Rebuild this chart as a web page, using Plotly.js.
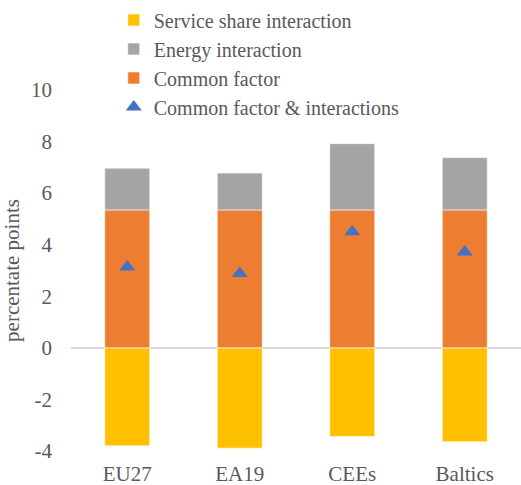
<!DOCTYPE html>
<html>
<head>
<meta charset="utf-8">
<script src="https://cdn.plot.ly/plotly-3.0.1.min.js"></script>
<style>html,body{margin:0;padding:0;background:#fff;}#chart{width:521px;height:485px;}</style>
</head>
<body>
<div id="chart"></div>
<script>
var categories = ["EU27", "EA19", "CEEs", "Baltics"];
var serviceShare = [-3.80, -3.89, -3.44, -3.64];
var energy = [1.62, 1.43, 2.57, 2.03];
var commonFactor = [5.35, 5.35, 5.35, 5.35];
var total = [3.14, 2.88, 4.50, 3.72];
var yTicks = [-4, -2, 0, 2, 4, 6, 8, 10];

var font = "Liberation Serif";
var barLine = {color: "rgba(255,255,255,0.6)", width: 1};

var data = [
  {type: "bar", name: "Service share interaction", x: categories, y: serviceShare,
   marker: {color: "#FFC000", line: barLine}, legendrank: 1, width: 0.4},
  {type: "bar", name: "Common factor", x: categories, y: commonFactor,
   marker: {color: "#ED7D31", line: barLine}, legendrank: 3, width: 0.4},
  {type: "bar", name: "Energy interaction", x: categories, y: energy,
   marker: {color: "#A5A5A5", line: barLine}, legendrank: 2, width: 0.4},
  {type: "scatter", mode: "markers", name: "Common factor & interactions", x: categories, y: total,
   marker: {symbol: "triangle-up", size: 14, color: "#4472C4"}, legendrank: 4}
];

var layout = {
  width: 521, height: 485,
  margin: {l: 71, r: 0, t: 90, b: 34},
  paper_bgcolor: "#fff", plot_bgcolor: "#fff",
  barmode: "relative",
  showlegend: true,
  font: {family: font, size: 21, color: "#595959"},
  legend: {x: 0.095, y: 1.248, xanchor: "left", yanchor: "top", traceorder: "normal",
           bgcolor: "rgba(0,0,0,0)", font: {family: font, size: 20, color: "#595959"},
           itemwidth: 30, tracegroupgap: 0},
  xaxis: {showgrid: false, zeroline: false, showline: false, ticks: "", ticklabelstandoff: 8,
          tickfont: {family: font, size: 21, color: "#595959"}},
  yaxis: {range: [-4, 10], tickvals: yTicks, ticktext: yTicks.map(String),
          showgrid: false, zeroline: true, zerolinecolor: "#D9D9D9", zerolinewidth: 2,
          showline: false, ticks: "", ticklen: 0, ticklabelstandoff: 18,
          tickfont: {family: font, size: 21, color: "#595959"},
          title: {text: "percentate points", standoff: 6, font: {family: font, size: 21, color: "#595959"}}}
};

Plotly.newPlot("chart", data, layout, {displayModeBar: false, staticPlot: true});
</script>
</body>
</html>
